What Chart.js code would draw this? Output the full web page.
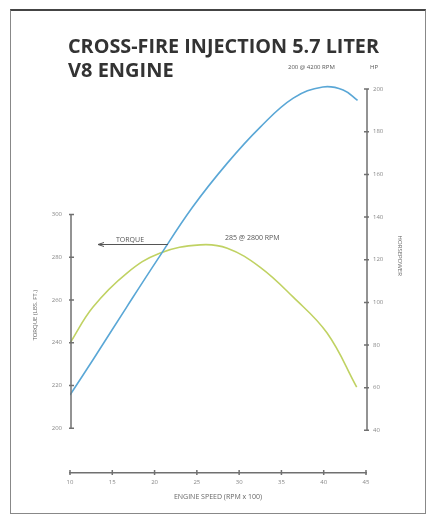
<!DOCTYPE html>
<html><head><meta charset="utf-8">
<script src="https://cdn.jsdelivr.net/npm/chart.js@4"></script>
<style>
html,body{margin:0;padding:0;background:#fff;}
#wrap{position:relative;width:430px;height:520px;overflow:hidden;}
#frame{position:absolute;left:10px;top:9px;width:416px;height:505px;border:1px solid #888;border-top:2px solid #444;box-sizing:border-box;}
canvas{position:absolute;left:0;top:0;}
</style></head><body>
<div id="wrap"><div id="frame"></div><canvas id="c" width="430" height="520"></canvas></div>
<script>
const titleLines = ['CROSS-FIRE INJECTION 5.7 LITER', 'V8 ENGINE'];
const rpmTicks = [10, 15, 20, 25, 30, 35, 40, 45];
const rpmTickLabels = ['10', '15', '20', '25', '30', '35', '40', '45'];
const torqueTicks = [200, 220, 240, 260, 280, 300];
const hpTicks = [40, 60, 80, 100, 120, 140, 160, 180, 200];
const hpRpm = [10, 12.7, 16.7, 20.3, 24.5, 28.6, 32.5, 36.4, 39.9, 42.3, 44.0];
const hpValues = [56.6, 73, 97.8, 119.8, 144.7, 165.3, 182.2, 195.8, 201, 199.6, 194.7];
const torqueRpm = [10, 12.7, 16.7, 20.6, 25.4, 28.6, 32.5, 36.4, 40.4, 43.9];
const torqueValues = [239.8, 256.6, 272.5, 281.9, 285.8, 284.2, 275.3, 261.3, 244.5, 219.2];
const xTitle = 'ENGINE SPEED (RPM x 100)';
const leftTitle = 'TORQUE (LBS. FT.)';
const rightTitle = 'HORSEPOWER';
const hpNote = '200 @ 4200 RPM';
const hpTag = 'HP';
const torqueNote = '285 @ 2800 RPM';
const torqueTag = 'TORQUE';

const hpData = hpRpm.map((x, i) => ({x, y: hpValues[i]}));
const torqueData = torqueRpm.map((x, i) => ({x, y: torqueValues[i]}));

const tickFont = {family: 'Open Sans', size: 6};
const AX = '#707070';

const decor = {
  id: 'decor',
  afterDraw(chart) {
    const ctx = chart.ctx, a = chart.chartArea;
    const x = chart.scales.x, yl = chart.scales.yT, yr = chart.scales.yH;
    ctx.save();
    ctx.fillStyle = '#333';
    ctx.font = 'bold 20px "Open Sans"';
    ctx.textAlign = 'left'; ctx.textBaseline = 'alphabetic';
    ctx.fillText(titleLines[0], 68, 52.5, 311);
    ctx.fillText(titleLines[1], 68, 76.5, 311);
    ctx.strokeStyle = AX; ctx.lineWidth = 1.5;
    const lx = a.left + 1;
    ctx.beginPath();
    ctx.moveTo(lx, yl.getPixelForValue(torqueTicks[torqueTicks.length - 1]));
    ctx.lineTo(lx, yl.getPixelForValue(torqueTicks[0]));
    torqueTicks.forEach(v => { const p = yl.getPixelForValue(v); ctx.moveTo(lx - 2, p); ctx.lineTo(lx + 3, p); });
    ctx.stroke();
    const rx = a.right + 1;
    ctx.beginPath();
    ctx.moveTo(rx, yr.getPixelForValue(hpTicks[hpTicks.length - 1]));
    ctx.lineTo(rx, yr.getPixelForValue(hpTicks[0]));
    hpTicks.forEach(v => { const p = yr.getPixelForValue(v); ctx.moveTo(rx - 3, p); ctx.lineTo(rx + 2, p); });
    ctx.stroke();
    ctx.beginPath();
    rpmTicks.forEach(v => { const p = x.getPixelForValue(v); ctx.moveTo(p, a.bottom - 3); ctx.lineTo(p, a.bottom + 2); });
    ctx.stroke();
    ctx.fillStyle = '#666';
    ctx.font = '6px "Open Sans"';
    ctx.textAlign = 'center'; ctx.textBaseline = 'middle';
    ctx.save();
    ctx.translate(35, (yl.getPixelForValue(200) + yl.getPixelForValue(300)) / 2 - 6);
    ctx.rotate(-Math.PI / 2);
    ctx.fillText(leftTitle, 0, 0);
    ctx.restore();
    ctx.save();
    ctx.translate(400, (yr.getPixelForValue(40) + yr.getPixelForValue(200)) / 2 - 4);
    ctx.rotate(Math.PI / 2);
    ctx.fillText(rightTitle, 0, 0);
    ctx.restore();
    ctx.fillStyle = '#555';
    ctx.font = '6px "Open Sans"';
    ctx.textAlign = 'left';
    ctx.fillText(hpNote, 288, 67);
    ctx.fillText(hpTag, 370, 67);
    ctx.font = '7px "Open Sans"';
    ctx.fillText(torqueNote, 225, 238);
    ctx.fillText(torqueTag, 116, 240);
    ctx.strokeStyle = '#555'; ctx.lineWidth = 1;
    ctx.beginPath();
    ctx.moveTo(98, 244.5); ctx.lineTo(168, 244.5);
    ctx.moveTo(98, 244.5); ctx.lineTo(104, 242.5);
    ctx.moveTo(98, 244.5); ctx.lineTo(104, 246.5);
    ctx.stroke();
    ctx.restore();
  }
};

new Chart(document.getElementById('c'), {
  type: 'line',
  data: {
    datasets: [
      {label: 'HP', data: hpData, yAxisID: 'yH', borderColor: '#5aa7d6', borderWidth: 1.6, pointRadius: 0, tension: 0.4, fill: false},
      {label: 'Torque', data: torqueData, yAxisID: 'yT', borderColor: '#c0d263', borderWidth: 1.6, pointRadius: 0, tension: 0.4, fill: false}
    ]
  },
  options: {
    responsive: false, animation: false, devicePixelRatio: 1,
    layout: {padding: {top: 81, left: 0, right: 0, bottom: 7}},
    plugins: {
      legend: {display: false}, tooltip: {enabled: false}, title: {display: false}
    },
    scales: {
      x: {type: 'linear', min: 10, max: 45, position: 'bottom',
        afterBuildTicks: s => { s.ticks = rpmTicks.map(v => ({value: v})); },
        afterFit: s => { s.height = 40; },
        ticks: {font: tickFont, color: '#888', padding: 6, maxRotation: 0, autoSkip: false,
          callback: (v) => rpmTickLabels[rpmTicks.indexOf(v)]},
        grid: {drawOnChartArea: false, drawTicks: false},
        border: {display: true, color: AX, width: 1.5},
        title: {display: true, text: xTitle, color: '#666', font: {family: 'Open Sans', size: 7}, padding: {top: 0, bottom: 12}}
      },
      yT: {type: 'linear', position: 'left', min: 179, max: 362.5,
        afterBuildTicks: s => { s.ticks = torqueTicks.map(v => ({value: v})); },
        afterFit: s => { s.width = 70; },
        ticks: {font: tickFont, color: '#888', padding: 8, callback: v => String(v)},
        grid: {display: false, drawTicks: false}, border: {display: false}
      },
      yH: {type: 'linear', position: 'right', min: 20, max: 203.8,
        afterBuildTicks: s => { s.ticks = hpTicks.map(v => ({value: v})); },
        afterFit: s => { s.width = 64; },
        ticks: {font: tickFont, color: '#888', padding: 7, callback: v => String(v)},
        grid: {display: false, drawTicks: false}, border: {display: false}
      }
    }
  },
  plugins: [decor]
});
</script>
</body></html>
